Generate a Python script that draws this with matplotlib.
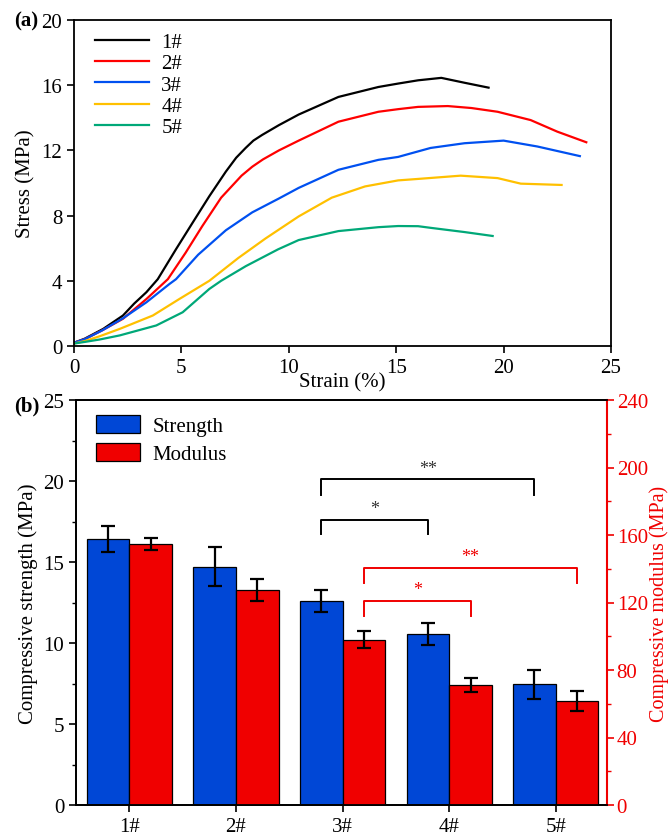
import matplotlib
matplotlib.use("Agg")
import matplotlib.pyplot as plt
import numpy as np

plt.rcParams["font.family"] = ["Liberation Serif", "DejaVu Serif"]
plt.rcParams["font.size"] = 15
plt.rcParams["axes.linewidth"] = 1.3

# ---- panel (a): stress-strain curves ----
curve_names = ["1#", "2#", "3#", "4#", "5#"]
curve_colors = ["#000000", "#FF0000", "#0050F0", "#FFC000", "#00A878"]

strain_1 = [0, 0.5, 1.36, 2.28, 2.8, 3.37, 3.9, 4.75, 5.52, 6.3, 7.07, 7.55, 7.99, 8.35, 8.76, 9.54, 10.46, 12.31, 14.17, 15.09, 16.02, 17.1, 18.18, 19.3]
stress_1 = [0.2, 0.45, 1.05, 1.87, 2.6, 3.3, 4.1, 5.94, 7.56, 9.19, 10.7, 11.55, 12.15, 12.6, 12.95, 13.55, 14.2, 15.28, 15.89, 16.1, 16.3, 16.45, 16.15, 15.85]

strain_2 = [0, 0.5, 1.3, 2.28, 3.37, 4.37, 5.2, 5.97, 6.85, 7.8, 8.3, 8.8, 9.54, 10.46, 12.31, 14.17, 15.09, 16.02, 17.4, 18.5, 19.72, 21.26, 22.5, 23.85]
stress_2 = [0.2, 0.42, 0.95, 1.67, 2.88, 4.1, 5.73, 7.35, 9.1, 10.45, 11.0, 11.45, 12.0, 12.6, 13.76, 14.37, 14.53, 14.67, 14.72, 14.6, 14.37, 13.86, 13.15, 12.5]

strain_3 = [0, 0.5, 1.3, 2.28, 3.37, 4.44, 4.75, 5.78, 7.07, 8.3, 9.54, 10.46, 12.31, 14.17, 15.09, 16.6, 18.18, 20.0, 21.57, 23.55]
stress_3 = [0.2, 0.42, 0.95, 1.7, 2.68, 3.8, 4.1, 5.6, 7.1, 8.2, 9.05, 9.7, 10.81, 11.42, 11.6, 12.15, 12.44, 12.6, 12.24, 11.65]

strain_4 = [0, 0.5, 1.2, 2.13, 3.67, 4.9, 6.3, 7.65, 8.92, 10.46, 12.0, 13.55, 15.09, 16.02, 18.0, 19.72, 20.8, 22.7]
stress_4 = [0.15, 0.3, 0.6, 1.05, 1.87, 2.88, 4.0, 5.4, 6.6, 7.95, 9.1, 9.79, 10.16, 10.25, 10.45, 10.3, 9.96, 9.88]

strain_5 = [0, 0.5, 1.2, 2.13, 3.83, 5.06, 6.3, 6.85, 8.0, 9.5, 10.46, 12.31, 14.17, 15.09, 16.02, 16.6, 18.18, 19.49]
stress_5 = [0.15, 0.25, 0.4, 0.65, 1.26, 2.07, 3.5, 4.0, 4.9, 5.93, 6.5, 7.05, 7.29, 7.36, 7.35, 7.25, 6.99, 6.75]

strains = [strain_1, strain_2, strain_3, strain_4, strain_5]
stresses = [stress_1, stress_2, stress_3, stress_4, stress_5]

# ---- panel (b): bars ----
groups = ["1#", "2#", "3#", "4#", "5#"]
strength = [16.4, 14.7, 12.6, 10.55, 7.45]
strength_err = [0.8, 1.2, 0.7, 0.7, 0.9]
modulus = [154.5, 127.5, 98.0, 71.0, 61.5]
modulus_err = [3.5, 6.5, 5.0, 4.0, 6.0]

# significance brackets: (group a, group b, height, drop, label)
sig_strength = [(2, 4, 20.1, 0.95, "**"), (2, 3, 17.6, 0.85, "*")]
sig_modulus = [(2, 4, 140.5, 9.0, "**"), (2, 3, 121.0, 9.0, "*")]

blue = "#0047D6"
red = "#F00000"

fig = plt.figure(figsize=(6.7, 8.37), dpi=100)
ax1 = fig.add_axes([74 / 670, 1 - 347 / 837, (611 - 74) / 670, (347 - 21) / 837])
ax2 = fig.add_axes([76 / 670, 1 - 806 / 837, (607 - 76) / 670, (806 - 401) / 837])

for xs, ys, c, name in zip(strains, stresses, curve_colors, curve_names):
    ax1.plot(xs, ys, color=c, lw=1.6, label=name)
ax1.set_xlim(0, 25)
ax1.set_ylim(0, 20)
ax1.set_xticks(np.arange(0, 26, 5))
ax1.set_yticks(np.arange(0, 21, 4))
ax1.tick_params(direction="out", length=5, width=1.2)
ax1.set_xlabel("Strain (%)", labelpad=-3)
ax1.set_ylabel("Stress (MPa)", labelpad=4)
ax1.legend(loc="upper left", frameon=False, handlelength=2.6, labelspacing=0.08,
           borderaxespad=0.2, handletextpad=0.6, bbox_to_anchor=(0.015, 1.0))
fig.text(14 / 670, 1 - 21 / 837, "(a)", fontweight="bold", va="center", ha="left")

# bars
x = np.arange(len(groups))
w = 0.4
ax2r = ax2.twinx()
b1 = ax2.bar(x - w / 2, strength, w, color=blue, edgecolor="black", lw=0.9,
             yerr=strength_err, capsize=5, error_kw=dict(lw=1.6, capthick=1.6), label="Strength")
b2 = ax2r.bar(x + w / 2, modulus, w, color=red, edgecolor="black", lw=0.9,
              yerr=modulus_err, capsize=5, error_kw=dict(lw=1.6, capthick=1.6), label="Modulus")
ax2.set_xlim(-0.5, 4.48)
ax2.set_ylim(0, 25)
ax2r.set_ylim(0, 240)
ax2.set_yticks(np.arange(0, 26, 5))
ax2.set_yticks(np.arange(2.5, 25, 5), minor=True)
ax2r.set_yticks(np.arange(0, 241, 40))
ax2r.set_yticks(np.arange(20, 240, 40), minor=True)
ax2.set_xticks(x)
ax2.set_xticklabels(groups)
ax2.tick_params(axis="both", which="major", direction="out", length=5, width=1.2)
ax2.tick_params(axis="y", which="minor", direction="out", length=3, width=1.0)
ax2r.tick_params(axis="y", which="major", direction="out", length=5, width=1.2, colors=red, pad=2)
ax2r.tick_params(axis="y", which="minor", direction="out", length=3, width=1.0, colors=red)
ax2r.spines["right"].set_color(red)
ax2r.spines["right"].set_linewidth(1.5)
ax2.set_ylabel("Compressive strength (MPa)", labelpad=4)
ax2r.set_ylabel("Compressive modulus (MPa)", color=red, labelpad=1, fontsize=14.5)

for a, b, h, d, lab in sig_strength:
    xa, xb = x[a] - w / 2, x[b] - w / 2
    ax2.plot([xa, xa, xb, xb], [h - d, h, h, h - d], color="black", lw=1.4)
    ax2.text((xa + xb) / 2, h + 0.15, lab, color="#333333", ha="center", va="bottom", fontsize=13)
for a, b, h, d, lab in sig_modulus:
    xa, xb = x[a] + w / 2, x[b] + w / 2
    ax2r.plot([xa, xa, xb, xb], [h - d, h, h, h - d], color=red, lw=1.4)
    ax2r.text((xa + xb) / 2, h + 1.5, lab, color=red, ha="center", va="bottom", fontsize=13)

ax2.legend([b1, b2], ["Strength", "Modulus"], loc="upper left", frameon=False,
           handlelength=2.1, handleheight=0.95, labelspacing=0.35, handletextpad=0.6,
           borderaxespad=0.3, bbox_to_anchor=(0.01, 1.0))
fig.text(14 / 670, 1 - 406 / 837, "(b)", fontweight="bold", va="center", ha="left")

fig.savefig("out.png", dpi=100)
